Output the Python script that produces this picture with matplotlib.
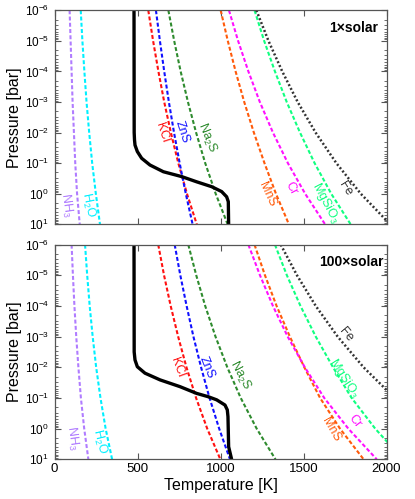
import matplotlib
matplotlib.use("Agg")
import matplotlib.pyplot as plt
from matplotlib.ticker import LogLocator, NullFormatter, LogFormatterMathtext

plt.rcParams['font.family'] = ['Liberation Sans', 'DejaVu Sans']
plt.rcParams['mathtext.default'] = 'regular'

# ---------------- data ----------------
pressures = [1e-6, 1e-5, 1e-4, 1e-3, 1e-2, 1e-1, 1e0, 1e1]   # bar

# 1x solar condensation curves (T in K at each pressure)
nh3_1 = [91, 97, 103, 109, 117, 125, 136, 152]
h2o_1 = [158, 168, 180, 193, 209, 227, 249, 274]
kcl_1 = [565, 594, 626, 661, 701, 746, 798, 857]
zns_1 = [611, 635, 661, 689, 720, 754, 791, 832]
na2s_1 = [686, 721, 760, 804, 853, 908, 971, 1043]
mns_1 = [1001, 1044, 1091, 1143, 1201, 1265, 1334, 1412]
cr_1 = [1051, 1106, 1168, 1237, 1316, 1406, 1510, 1630]
mgsio3_1 = [1205, 1263, 1328, 1399, 1479, 1567, 1667, 1784]
fe_1 = [1216, 1289, 1372, 1465, 1573, 1698, 1845, 2022]

# 100x solar condensation curves
nh3_100 = [103, 111, 120, 131, 144, 159, 179, 204]
h2o_100 = [184, 197, 212, 230, 251, 277, 308, 347]
kcl_100 = [625, 660, 700, 745, 795, 853, 920, 999]
zns_100 = [724, 758, 796, 837, 883, 934, 992, 1057]
na2s_100 = [806, 854, 908, 970, 1041, 1122, 1218, 1331]
mns_100 = [1205, 1268, 1338, 1418, 1505, 1600, 1720, 1862]
cr_100 = [1168, 1238, 1316, 1405, 1508, 1625, 1770, 1941]
mgsio3_100 = [1328, 1400, 1482, 1574, 1678, 1790, 1932, 2099]
fe_100 = [1363, 1461, 1574, 1706, 1862, 2049]

# T-P profiles
prof_p_1 = [1e-6, 1e-2, 0.0174, 0.0257, 0.0417, 0.0692, 0.115, 0.191, 0.275,
            0.407, 0.589, 0.851, 1.26, 1.82, 10.0]
prof_t_1 = [479, 480, 482, 485, 499, 525, 575, 656, 766,
            856, 947, 1007, 1037, 1047, 1049]
prof_p_100 = [1e-6, 0.00316, 0.00575, 0.00955, 0.0155, 0.0257, 0.0427, 0.0708,
              0.0912, 0.115, 0.170, 0.245, 0.407, 3.89, 10.0]
prof_t_100 = [479, 480, 485, 499, 545, 636, 756, 856,
              927, 977, 1027, 1041, 1045, 1049, 1067]

species = ['NH$_3$', 'H$_2$O', 'KCl', 'ZnS', 'Na$_2$S', 'MnS', 'Cr', 'MgSiO$_3$', 'Fe']
panel_titles = ['1\u00d7solar', '100\u00d7solar']
xticks = [0, 500, 1000, 1500, 2000]

colors = ['#B07CFF', '#00F0FF', '#FF1010', '#1010FF', '#2E8B2E',
          '#FF5A0A', '#FF10FF', '#10FF80', '#333333']
styles = [(0, (1.9, 1.1))] * 8 + [(0, (0.8, 0.9))]
widths = [1.5] * 8 + [1.8]

curves_1 = [nh3_1, h2o_1, kcl_1, zns_1, na2s_1, mns_1, cr_1, mgsio3_1, fe_1]
curves_100 = [nh3_100, h2o_100, kcl_100, zns_100, na2s_100, mns_100, cr_100,
              mgsio3_100, fe_100]

# label placement (axes fraction) and rotation
lab_1 = [(0.035, 0.090, -82), (0.101, 0.092, -78), (0.324, 0.430, -72),
         (0.384, 0.430, -72), (0.459, 0.405, -68), (0.640, 0.140, -65),
         (0.712, 0.168, -62), (0.815, 0.098, -62), (0.877, 0.165, -58)]
lab_100 = [(0.054, 0.099, -82), (0.134, 0.083, -76), (0.369, 0.428, -70),
           (0.459, 0.428, -68), (0.559, 0.393, -62), (0.833, 0.137, -60),
           (0.905, 0.178, -52), (0.872, 0.379, -57), (0.878, 0.579, -50)]

W, H = 415, 499
fig = plt.figure(figsize=(W / 100, H / 100), dpi=100)
ax1 = fig.add_axes([54.5 / W, 1 - 224.3 / H, 332 / W, 214 / H])
ax2 = fig.add_axes([54.5 / W, 1 - 459.3 / H, 332 / W, 214.6 / H])

for ax, curves, pt, pp, labs, title in [
        (ax1, curves_1, prof_t_1, prof_p_1, lab_1, panel_titles[0]),
        (ax2, curves_100, prof_t_100, prof_p_100, lab_100, panel_titles[1])]:
    for c, col, ls, lw in zip(curves, colors, styles, widths):
        ax.plot(c, pressures[:len(c)], color=col, linestyle=ls, linewidth=lw)
    ax.plot(pt, pp, color='black', linewidth=2.4, solid_capstyle='butt')
    ax.set_yscale('log')
    ax.set_ylim(10, 1e-6)
    ax.set_xlim(0, 2000)
    ax.set_xticks(xticks)
    ax.yaxis.set_major_locator(LogLocator(base=10, numticks=20))
    ax.yaxis.set_minor_locator(LogLocator(base=10, subs=range(2, 10), numticks=20))
    ax.yaxis.set_minor_formatter(NullFormatter())
    ax.yaxis.set_major_formatter(LogFormatterMathtext())
    ax.tick_params(axis='both', which='both', direction='in', top=True,
                   right=True, color='#555555')
    ax.tick_params(axis='x', labelsize=9.5, pad=3)
    ax.tick_params(axis='y', labelsize=8.5, pad=4)
    ax.tick_params(axis='both', which='major', length=4.5, width=0.8)
    ax.tick_params(axis='both', which='minor', length=2.5, width=0.6)
    for s in ax.spines.values():
        s.set_color('#555555')
        s.set_linewidth(0.9)
    ax.set_ylabel('Pressure [bar]', fontsize=11.5, labelpad=2)
    for name, col, (fx, fy, rot) in zip(species, colors, labs):
        ax.text(fx, fy, name, color=col, rotation=rot, fontsize=9,
                ha='center', va='center', transform=ax.transAxes,
                rotation_mode='anchor')
    ax.text(0.975 if ax is ax1 else 0.99, 0.918, title, fontsize=10,
            fontweight='bold', ha='right', va='center', transform=ax.transAxes)

ax1.tick_params(axis='x', labelbottom=False)
ax2.set_xlabel('Temperature [K]', fontsize=11.5, labelpad=2)

fig.savefig('out.png', dpi=100)
